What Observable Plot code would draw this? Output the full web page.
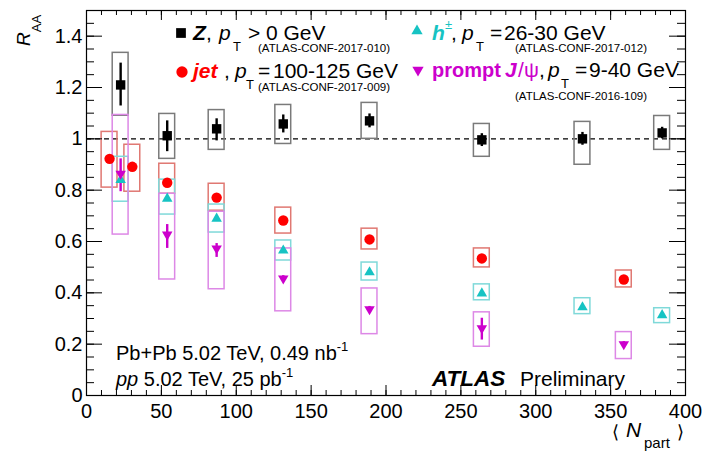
<!DOCTYPE html>
<html>
<head>
<meta charset="utf-8">
<script src="https://cdn.jsdelivr.net/npm/d3@7"></script>
<script src="https://cdn.jsdelivr.net/npm/@observablehq/plot@0.6"></script>
<style>
  html, body { margin: 0; padding: 0; background: #fff; }
  svg { display: block; }
</style>
</head>
<body>
<div id="chart"></div>
<script>
// ---------------- data ----------------
// Z boson, pT > 0 GeV
const zNpart   = [22.8, 53.9, 86.9, 131.4, 189.0, 264.0, 331.2, 384.4];
const zRaa     = [1.210, 1.012, 1.039, 1.058, 1.070, 0.996, 1.000, 1.023];
const zStatLo  = [1.128, 0.950, 0.992, 1.023, 1.043, 0.970, 0.975, 1.000];
const zStatHi  = [1.295, 1.070, 1.078, 1.093, 1.097, 1.020, 1.025, 1.045];
const zSysLo   = [1.090, 0.922, 0.957, 0.980, 1.000, 0.930, 0.899, 0.957];
const zSysHi   = [1.335, 1.097, 1.112, 1.132, 1.140, 1.058, 1.066, 1.089];

// jets, pT = 100-125 GeV
const jetNpart = [15.4, 30.6, 53.9, 86.9, 131.4, 189.0, 264.0, 358.8];
const jetRaa   = [0.922, 0.891, 0.829, 0.771, 0.682, 0.608, 0.534, 0.452];
const jetSysLo = [0.810, 0.794, 0.786, 0.720, 0.631, 0.569, 0.499, 0.421];
const jetSysHi = [1.027, 0.977, 0.903, 0.825, 0.732, 0.650, 0.573, 0.487];

// charged hadrons, pT = 26-30 GeV
const hNpart   = [22.8, 53.9, 86.9, 131.4, 189.0, 264.0, 331.2, 384.4];
const hRaa     = [0.840, 0.767, 0.689, 0.565, 0.480, 0.398, 0.344, 0.313];
const hSysLo   = [0.755, 0.705, 0.635, 0.526, 0.448, 0.371, 0.317, 0.282];
const hSysHi   = [0.930, 0.841, 0.744, 0.604, 0.518, 0.433, 0.379, 0.340];

// prompt J/psi, pT = 9-40 GeV
const psiNpart  = [22.8, 53.9, 86.9, 131.4, 189.0, 264.0, 358.8];
const psiRaa    = [0.864, 0.627, 0.573, 0.456, 0.336, 0.262, 0.200];
const psiStatLo = [0.794, 0.573, 0.538, 0.445, 0.325, 0.216, 0.190];
const psiStatHi = [0.922, 0.666, 0.592, 0.467, 0.347, 0.301, 0.210];
const psiSysLo  = [0.627, 0.452, 0.414, 0.328, 0.239, 0.190, 0.142];
const psiSysHi  = [1.093, 0.786, 0.716, 0.573, 0.417, 0.324, 0.247];

// axis ticks
const xMajorTicks = [0, 50, 100, 150, 200, 250, 300, 350, 400];
const xMinorTicks = d3.range(0, 401, 10);
const yMajorTicks = [0, 0.2, 0.4, 0.6, 0.8, 1, 1.2, 1.4];
const yMinorTicks = d3.range(0, 1.5001, 0.05);

// ---------------- layout / style ----------------
const W = 706, H = 463;
const mL = 86, mR = 21, mT = 10, mB = 68;
const frameW = W - mL - mR, frameH = H - mT - mB;
const FONT = "'Liberation Sans', Arial, Helvetica, sans-serif";
const boxHalf = 5.3; // half-width of systematic boxes in Npart units

const C = {
  z: "#000000", zBox: "#7a7a7a",
  jet: "#ff0000", jetBox: "#e07872",
  h: "#16c3c3", hBox: "#7fd9d9",
  psi: "#cc00cc", psiBox: "#dd88e6"
};

const table = (N, R, extra) => N.map((n, i) => {
  const o = {n, r: R[i]};
  for (const k in extra) o[k] = extra[k][i];
  return o;
});
const zData   = table(zNpart, zRaa, {lo: zStatLo, hi: zStatHi, slo: zSysLo, shi: zSysHi});
const jetData = table(jetNpart, jetRaa, {slo: jetSysLo, shi: jetSysHi});
const hData   = table(hNpart, hRaa, {slo: hSysLo, shi: hSysHi});
const psiData = table(psiNpart, psiRaa, {lo: psiStatLo, hi: psiStatHi, slo: psiSysLo, shi: psiSysHi});

// downward-pointing triangle symbol
const triangleDown = {
  draw(ctx, size) {
    const s3 = Math.sqrt(3);
    const y = -Math.sqrt(size / (s3 * 3));
    ctx.moveTo(0, -y * 2);
    ctx.lineTo(-s3 * y, y);
    ctx.lineTo(s3 * y, y);
    ctx.closePath();
  }
};

const sysBox = (data, color) => Plot.rect(data, {
  x1: d => d.n - boxHalf, x2: d => d.n + boxHalf, y1: "slo", y2: "shi",
  fill: "none", stroke: color, strokeWidth: 1.5
});

// ---------------- annotations ----------------
function annotations() {
  const g = d3.create("svg:g").attr("font-family", FONT).attr("text-anchor", "start");
  const piece = (x, y, text, o = {}) => g.append("text")
    .attr("x", x).attr("y", y)
    .attr("font-size", o.size || 21)
    .attr("font-weight", o.bold ? "bold" : null)
    .attr("font-style", o.italic ? "italic" : null)
    .attr("fill", o.color || "#000")
    .text(text);
  const sym = (x, y, type, size, color) => g.append("path")
    .attr("transform", `translate(${x},${y})`)
    .attr("d", d3.symbol(type, size)()).attr("fill", color);

  // legend: Z
  sym(181, 33, d3.symbolSquare, 95, C.z);
  piece(193, 40, "Z", {bold: true, italic: true});
  piece(206, 40, ",");
  piece(219, 40, "p", {italic: true});
  piece(233, 51, "T", {size: 13});
  piece(248, 40, ">");
  piece(266, 40, "0 GeV");
  piece(258, 52, "(ATLAS-CONF-2017-010)", {size: 11.5});

  // legend: jet
  sym(182, 72, d3.symbolCircle, 100, C.jet);
  piece(193, 78, "jet", {bold: true, italic: true, color: C.jet});
  piece(224, 78, ",");
  piece(235, 78, "p", {italic: true});
  piece(246, 89, "T", {size: 13});
  piece(258, 78, "=");
  piece(273, 78, "100-125 GeV");
  piece(258, 91, "(ATLAS-CONF-2017-009)", {size: 11.5});

  // legend: h
  sym(417, 31, d3.symbolTriangle, 55, C.h);
  piece(432, 40, "h", {bold: true, italic: true, color: C.h});
  piece(445, 29, "±", {size: 13, color: C.h});
  piece(451, 40, ",");
  piece(462, 40, "p", {italic: true});
  piece(476, 51, "T", {size: 13});
  piece(490, 40, "=");
  piece(504, 40, "26-30 GeV");
  piece(515, 52, "(ATLAS-CONF-2017-012)", {size: 11.5});

  // legend: J/psi
  sym(418, 70, triangleDown, 55, C.psi);
  piece(432, 77, "prompt", {bold: true, color: C.psi, size: 20});
  piece(505, 77, "J", {bold: true, italic: true, color: C.psi});
  piece(518, 77, "/", {color: C.psi});
  piece(524, 77, "ψ", {color: C.psi});
  piece(539, 77, ",");
  piece(548, 77, "p", {italic: true});
  piece(561, 88, "T", {size: 13});
  piece(575, 77, "=");
  piece(589, 77, "9-40 GeV");
  piece(515, 100, "(ATLAS-CONF-2016-109)", {size: 11.5});

  // bottom-left: luminosity
  const t1 = g.append("text").attr("x", 116).attr("y", 360).attr("font-size", 20);
  t1.append("tspan").text("Pb+Pb 5.02 TeV, 0.49 nb");
  t1.append("tspan").attr("dy", -9).attr("font-size", 13).text("-1");
  const t2 = g.append("text").attr("x", 116).attr("y", 386).attr("font-size", 20);
  t2.append("tspan").attr("font-style", "italic").text("pp");
  t2.append("tspan").text(" 5.02 TeV, 25 pb");
  t2.append("tspan").attr("dy", -9).attr("font-size", 13).text("-1");

  // ATLAS Preliminary
  piece(432, 386, "ATLAS", {bold: true, italic: true, size: 22.5});
  piece(520, 386, "Preliminary", {size: 21});

  // y-axis title
  const yt = g.append("text").attr("transform", "translate(30,46) rotate(-90)").attr("font-size", 19);
  yt.append("tspan").attr("font-style", "italic").text("R");
  yt.append("tspan").attr("font-size", 13).attr("dy", 11).text("AA");

  // x-axis title
  piece(612, 438, "⟨", {size: 18});
  piece(626, 437, "N", {italic: true, size: 21});
  piece(644, 448, "part", {size: 15});
  piece(677, 438, "⟩", {size: 18});

  return g.node();
}

// ---------------- plot ----------------
const chart = Plot.plot({
  width: W, height: H,
  marginLeft: mL, marginRight: mR, marginTop: mT, marginBottom: mB,
  style: {fontFamily: FONT, fontSize: "20px", background: "#fff", color: "#000", overflow: "visible"},
  x: {domain: [0, 400]},
  y: {domain: [0, 1.5]},
  marks: [
    Plot.ruleY([1], {stroke: "#000", strokeWidth: 1.2, strokeDasharray: "5,4"}),
    sysBox(zData, C.zBox),
    sysBox(jetData, C.jetBox),
    sysBox(hData, C.hBox),
    sysBox(psiData, C.psiBox),
    Plot.ruleX(zData, {x: "n", y1: "lo", y2: "hi", stroke: C.z, strokeWidth: 2.4}),
    Plot.ruleX(psiData, {x: "n", y1: "lo", y2: "hi", stroke: C.psi, strokeWidth: 2.4}),
    Plot.dot(jetData, {x: "n", y: "r", r: 5.2, fill: C.jet, symbol: "circle"}),
    Plot.dot(hData, {x: "n", y: "r", r: 3.9, fill: C.h, symbol: "triangle"}),
    Plot.dot(psiData, {x: "n", y: "r", r: 3.9, fill: C.psi, symbol: triangleDown}),
    Plot.dot(zData, {x: "n", y: "r", r: 5.3, fill: C.z, symbol: "square"}),
    // inward ROOT-style ticks
    Plot.ruleX(xMinorTicks, {x: d => d, insetTop: frameH - 5, stroke: "#000", strokeWidth: 1}),
    Plot.ruleX(xMajorTicks, {x: d => d, insetTop: frameH - 10, stroke: "#000", strokeWidth: 1}),
    Plot.ruleX(xMinorTicks, {x: d => d, insetBottom: frameH - 5, stroke: "#000", strokeWidth: 1}),
    Plot.ruleX(xMajorTicks, {x: d => d, insetBottom: frameH - 10, stroke: "#000", strokeWidth: 1}),
    Plot.ruleY(yMinorTicks, {y: d => d, insetRight: frameW - 8, stroke: "#000", strokeWidth: 1}),
    Plot.ruleY(yMajorTicks, {y: d => d, insetRight: frameW - 16, stroke: "#000", strokeWidth: 1}),
    Plot.ruleY(yMinorTicks, {y: d => d, insetLeft: frameW - 8, stroke: "#000", strokeWidth: 1}),
    Plot.ruleY(yMajorTicks, {y: d => d, insetLeft: frameW - 16, stroke: "#000", strokeWidth: 1}),
    Plot.frame({stroke: "#000", strokeWidth: 1.2}),
    Plot.axisX({ticks: xMajorTicks, tickSize: 0, tickPadding: 8, fontSize: 20, label: null, tickFormat: d => String(d)}),
    Plot.axisY({ticks: yMajorTicks, tickSize: 0, tickPadding: 4, fontSize: 20, label: null, tickFormat: d => String(+d.toFixed(2))}),
    annotations
  ]
});
document.getElementById("chart").appendChild(chart);
</script>
</body>
</html>
